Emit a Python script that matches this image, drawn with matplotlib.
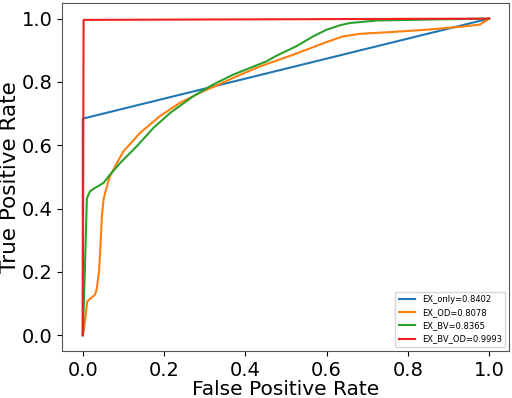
import matplotlib
matplotlib.use('Agg')
import matplotlib.pyplot as plt

# ROC curves: (FPR, TPR)
ex_only_fpr = [0.0, 0.0, 1.0]
ex_only_tpr = [0.0, 0.684, 1.0]

ex_od_fpr = [0.0, 0.003, 0.011, 0.030, 0.034, 0.040, 0.043, 0.047, 0.051, 0.055,
             0.063, 0.067, 0.084, 0.100, 0.108, 0.141, 0.190, 0.239, 0.297, 0.330,
             0.379, 0.436, 0.518, 0.600, 0.641, 0.682, 0.764, 0.846, 0.928, 0.977,
             0.993, 1.0]
ex_od_tpr = [0.0, 0.018, 0.107, 0.128, 0.144, 0.200, 0.270, 0.376, 0.428, 0.450,
             0.486, 0.502, 0.544, 0.581, 0.592, 0.639, 0.692, 0.734, 0.771, 0.789,
             0.818, 0.849, 0.886, 0.926, 0.944, 0.952, 0.958, 0.965, 0.974, 0.981,
             0.994, 1.0]

ex_bv_fpr = [0.0, 0.005, 0.010, 0.018, 0.030, 0.051, 0.067, 0.092, 0.133, 0.174,
             0.215, 0.272, 0.321, 0.370, 0.411, 0.452, 0.477, 0.526, 0.567, 0.600,
             0.633, 0.657, 0.723, 0.846, 1.0]
ex_bv_tpr = [0.0, 0.200, 0.432, 0.455, 0.465, 0.481, 0.507, 0.544, 0.597, 0.655,
             0.702, 0.755, 0.792, 0.823, 0.844, 0.865, 0.883, 0.913, 0.944, 0.965,
             0.979, 0.986, 0.994, 0.997, 1.0]

ex_bv_od_fpr = [0.0, 0.002, 1.0]
ex_bv_od_tpr = [0.0, 0.996, 1.0]

labels = ['EX_only=0.8402', 'EX_OD=0.8078', 'EX_BV=0.8365', 'EX_BV_OD=0.9993']

fig, ax = plt.subplots(figsize=(5.12, 3.98), dpi=100)
fig.subplots_adjust(left=0.122, right=0.995, bottom=0.118, top=0.993)

ax.plot(ex_only_fpr, ex_only_tpr, color='#1f77b4', lw=1.5, label=labels[0])
ax.plot(ex_od_fpr, ex_od_tpr, color='#ff7f0e', lw=1.5, label=labels[1])
ax.plot(ex_bv_fpr, ex_bv_tpr, color='#2ca02c', lw=1.5, label=labels[2])
ax.plot(ex_bv_od_fpr, ex_bv_od_tpr, color='#f02020', lw=1.5, label=labels[3])

ax.set_xlabel('False Positive Rate', fontsize=14.5, labelpad=0)
ax.set_ylabel('True Positive Rate', fontsize=15.5, labelpad=1)
ax.tick_params(labelsize=14)
for sp in ax.spines.values():
    sp.set_color('#555555')

ax.legend(loc='lower right', fontsize=6)

plt.savefig('out.png', dpi=100)
